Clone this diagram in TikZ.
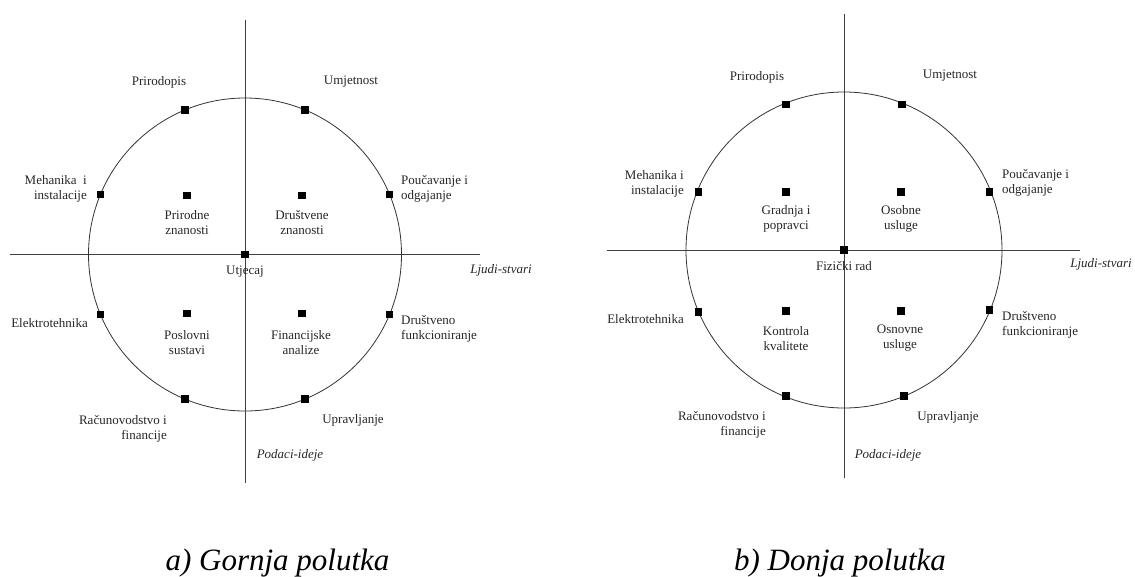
\documentclass[tikz,border=0pt]{standalone}
\usepackage{fontspec}
\setmainfont{Liberation Serif}
\begin{document}
\begin{tikzpicture}[x=1pt,y=-1pt,
  sq/.style={fill=black, draw=none, minimum size=7.5pt, inner sep=0pt},
  lbl/.style={inner sep=0pt, font=\fontsize{13}{15}\selectfont, text=black!85},
  ital/.style={lbl, font=\fontsize{13}{15}\selectfont\itshape},
  captxt/.style={inner sep=0pt, anchor=base, font=\fontsize{31}{33}\selectfont\itshape},
  axis/.style={line width=0.9pt, draw=black!75},
  ring/.style={line width=0.8pt, draw=black!80}]
\useasboundingbox (0,0) rectangle (1135,576);

% ---------------- a) Gornja polutka ----------------
\begin{scope}[shift={(245,254.5)}]
  \coordinate (aL) at (-235,0);
  \coordinate (aR) at (235,0);
  \coordinate (aT) at (0,-235);
  \coordinate (aB) at (0,228);
  \draw[axis] (aL) -- (aR);
  \draw[axis] (aT) -- (aB);
  \draw[ring] (0,0) circle[radius=156.5pt];
  % squares on circle
  \node[sq] (a1) at (-60,-144.6) {};
  \node[sq] (a2) at (60,-144.6) {};
  \node[sq] (a3) at (-144.6,-60) {};
  \node[sq] (a4) at (144.6,-60) {};
  \node[sq] (a5) at (-144.6,60) {};
  \node[sq] (a6) at (144.6,60) {};
  \node[sq] (a7) at (-60,144.6) {};
  \node[sq] (a8) at (60,144.6) {};
  % inner squares
  \node[sq] (a9) at (-58,-59) {};
  \node[sq] (a10) at (57,-59) {};
  \node[sq] (a11) at (-58,59) {};
  \node[sq] (a12) at (57,59) {};
  \node[sq] (a0) at (0,0) {};
  % labels
  \node[lbl] (ta1) at (-86,-172) {Prirodopis};
  \node[lbl] (ta2) at (106,-173) {Umjetnost};
  \node[lbl, anchor=east, align=right] (ta3) at (-158,-65.5) {Mehanika\ \ i\\instalacije};
  \node[lbl, anchor=west, align=left] (ta4) at (156,-65.5) {Poučavanje i\\odgajanje};
  \node[lbl, align=center] (ta9) at (-58,-31.5) {Prirodne\\znanosti};
  \node[lbl, align=center] (ta10) at (57,-31.5) {Društvene\\znanosti};
  \node[lbl] (ta0) at (0,17) {Utjecaj};
  \node[lbl, anchor=east] (ta5) at (-157,69) {Elektrotehnika};
  \node[lbl, align=center] (ta11) at (-58,88) {Poslovni\\sustavi};
  \node[lbl, align=center] (ta12) at (56,88) {Financijske\\analize};
  \node[lbl, anchor=west, align=left] (ta6) at (156,74.5) {Društveno\\funkcioniranje};
  \node[lbl, anchor=east, align=right] (ta7) at (-78,174) {Računovodstvo i\\financije};
  \node[lbl] (ta8) at (108,166) {Upravljanje};
  \node[ital] (taH) at (256,16) {Ljudi-stvari};
  \node[ital] (taV) at (45,201) {Podaci-ideje};
\end{scope}

% ---------------- b) Donja polutka ----------------
\begin{scope}[shift={(844,250)}]
  \coordinate (bL) at (-237,0);
  \coordinate (bR) at (236,0);
  \coordinate (bT) at (0,-236);
  \coordinate (bB) at (0,228);
  \draw[axis] (bL) -- (bR);
  \draw[axis] (bT) -- (bB);
  \draw[ring] (0,0) circle[radius=158pt];
  \node[sq] (b1) at (-58,-145.5) {};
  \node[sq] (b2) at (58,-145.5) {};
  \node[sq] (b3) at (-145.5,-58) {};
  \node[sq] (b4) at (145.5,-58) {};
  \node[sq] (b5) at (-145.5,62) {};
  \node[sq] (b6) at (145.5,60) {};
  \node[sq] (b7) at (-58,146) {};
  \node[sq] (b8) at (60,146) {};
  \node[sq] (b9) at (-58,-58) {};
  \node[sq] (b10) at (57,-58) {};
  \node[sq] (b11) at (-58,61) {};
  \node[sq] (b12) at (57,61) {};
  \node[sq] (b0) at (0,0) {};
  \node[lbl] (tb1) at (-87,-173) {Prirodopis};
  \node[lbl] (tb2) at (106,-174) {Umjetnost};
  \node[lbl, anchor=east, align=right] (tb3) at (-160,-66) {Mehanika i\\instalacije};
  \node[lbl, anchor=west, align=left] (tb4) at (158,-67.5) {Poučavanje i\\odgajanje};
  \node[lbl, align=center] (tb9) at (-58,-31) {Gradnja i\\popravci};
  \node[lbl, align=center] (tb10) at (57,-31) {Osobne\\usluge};
  \node[lbl] (tb0) at (0,16) {Fizički rad};
  \node[lbl, anchor=east] (tb5) at (-160,69) {Elektrotehnika};
  \node[lbl, align=center] (tb11) at (-58,88.5) {Kontrola\\kvalitete};
  \node[lbl, align=center] (tb12) at (56,88.5) {Osnovne\\usluge};
  \node[lbl, anchor=west, align=left] (tb6) at (158,74.5) {Društveno\\funkcioniranje};
  \node[lbl, anchor=east, align=right] (tb7) at (-78,174.5) {Računovodstvo i\\financije};
  \node[lbl] (tb8) at (104,167) {Upravljanje};
  \node[ital] (tbH) at (257,14) {Ljudi-stvari};
  \node[ital] (tbV) at (44,205) {Podaci-ideje};
\end{scope}

% captions
\node[captxt] (capa) at (277.5,570) {a) Gornja polutka};
\node[captxt] (capb) at (840,570) {b) Donja polutka};
\end{tikzpicture}
\end{document}
